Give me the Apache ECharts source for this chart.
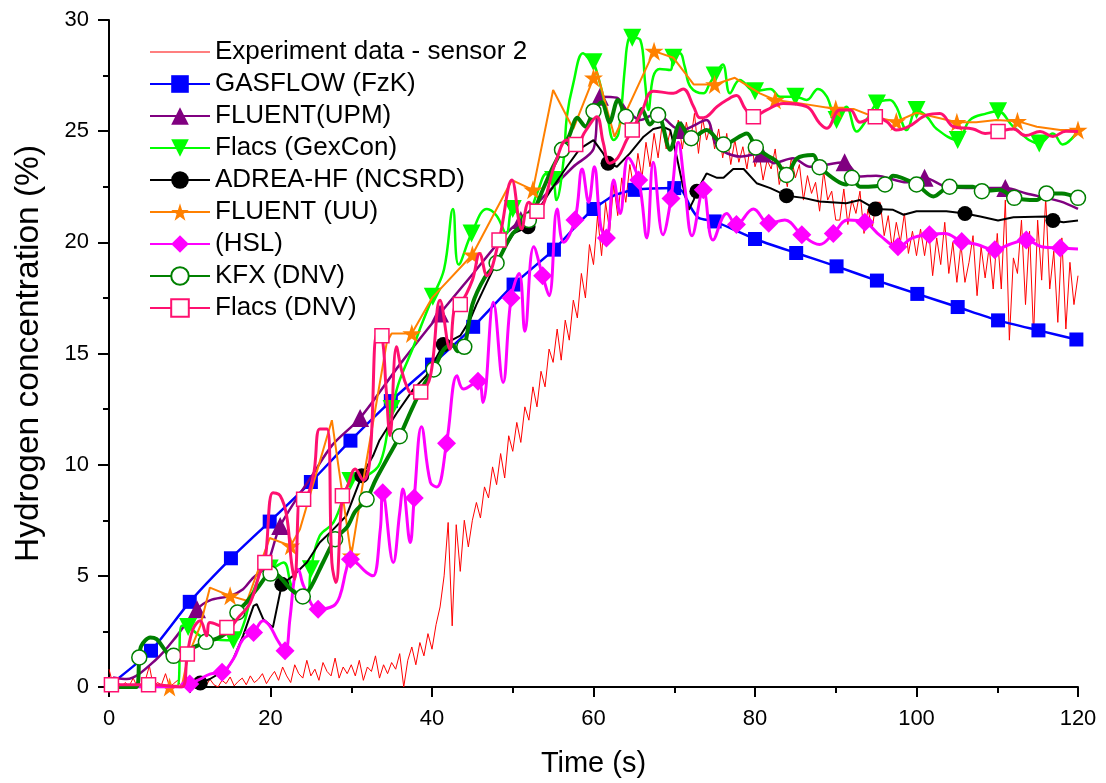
<!DOCTYPE html>
<html><head><meta charset="utf-8">
<script src="https://cdn.jsdelivr.net/npm/echarts@6/dist/echarts.min.js"></script>
<style>html,body{margin:0;padding:0;background:#fff}#c{width:1106px;height:783px}</style>
</head><body><div id="c"></div>
<script>
// ---------- DATA ----------
const seriesNames = ['Experiment data - sensor 2','GASFLOW (FzK)','FLUENT(UPM)','Flacs (GexCon)','ADREA-HF (NCSRD)','FLUENT (UU)','(HSL)','KFX (DNV)','Flacs (DNV)'];
const xTicks = [0,20,40,60,80,100,120];
const yTicks = [0,5,10,15,20,25,30];

// experiment, sampled every 0.5 s from t = 0
const expStep = 0.5;
const expY = [
0.8,0.1,0.3,0.0,0.2,0.05,0.4,0.0,0.1,0.3,0.95,0.0,0.2,0.1,0.6,0.0,0.15,0.3,0.0,0.2,0.1,
0.3,0.0,0.2,0.05,0.35,0.1,0.0,0.3,0.15,0.45,0.05,0.25,0.4,0.1,0.5,0.2,0.35,0.6,0.15,0.45,
0.7,0.3,0.9,0.5,0.2,1.0,0.6,0.4,1.2,0.5,0.8,0.3,1.1,0.7,0.5,1.3,0.4,0.9,0.6,1.0,
0.5,1.2,0.3,0.9,0.7,1.4,0.4,1.0,0.6,1.1,0.8,1.5,0.0,1.2,1.8,1.0,2.0,1.4,2.4,1.7,
2.8,3.6,5.0,7.4,2.75,7.3,5.2,7.5,6.3,7.5,
8.3,7.6,9.0,8.5,9.9,9.1,10.5,9.4,11.3,10.6,11.9,11.0,12.6,12.0,13.5,12.6,14.2,13.5,15.2,14.6,
16.1,14.7,16.5,15.6,17.4,16.6,18.6,17.5,19.9,19.0,
21.2,19.4,21.8,20.5,22.6,21.2,22.9,21.8,23.5,22.4,
24.0,22.9,24.5,23.4,24.9,23.8,25.3,24.2,25.0,24.3,
25.5,24.2,25.4,24.5,25.8,24.0,25.6,24.6,25.3,24.2,
25.1,23.8,24.9,23.5,24.6,23.6,24.3,23.3,24.6,23.4,
24.0,22.8,23.7,23.3,24.2,22.6,23.4,22.5,23.8,22.9,
23.5,21.9,23.0,22.2,22.7,21.4,23.2,21.9,22.3,21.0,
21.0,22.4,20.8,21.9,21.3,22.3,20.4,21.5,20.6,21.8,
21.8,20.3,21.2,19.7,20.9,20.0,21.3,19.5,20.5,19.4,
20.6,19.4,20.6,18.5,20.2,19.0,20.9,18.6,20.0,18.2,
19.9,18.2,19.1,20.3,17.6,19.8,18.4,19.8,17.9,20.4,
17.9,21.9,15.6,19.3,18.6,21.0,17.2,20.5,15.8,21.0,
18.3,22.0,17.9,19.6,16.4,20.2,16.1,19.1,17.2,18.5
];

const gasflowLine = [[0.5,0.2],[58,20.8],[62.5,22.1],[71,22.3],[72,21.6],[73,21.1]];
const gasflowMarks = [[5.2,1.63],[10,3.83],[15.1,5.79],[19.9,7.44],[25,9.22],[29.9,11.08],[34.9,12.86],[40,14.5],[45.1,16.2],[50.1,18.1],[55.1,19.67],[60,21.5],[65.1,22.36],[70,22.44],[75,20.94],[80,20.15],[85.1,19.52],[90.1,18.92],[95.1,18.28],[100.1,17.68],[105.1,17.09],[110.1,16.49],[115.1,16.04],[119.8,15.63]];

const upmLine = [[0.5,0.43],[2.2,0.36],[5.9,1.26],[8.4,2.3],[12.5,3.9],[15,4.1],[16.6,4.4],[17.8,4.9],[19.5,5.45],[25.3,9.6],[27.7,10.9],[36,14.5],[45.1,18.6],[49.2,20.4],[53.4,21.9],[57.5,23.4],[60,24.2],[62.9,26.5],[64.1,25.95],[65.8,25.5],[67.8,25.8],[69.9,25.2],[74,25.5],[75.3,24.3],[78.1,23.86],[82.3,23.56],[84.7,23.78],[86.8,23.4],[93,22.96],[95,23.0],[98.8,22.7],[103.7,22.5],[107.4,22.44],[113.6,22.2],[117.8,21.84],[120,21.5]];
const upmMarks = [[10.9,3.5],[21.2,7.24],[31.1,12.1],[41,16.8],[51,21.0],[60.8,26.55],[70.9,25.05],[80.8,24.0],[91.1,23.6],[101,22.9],[111,22.44]];

const gexLine = [[0,0],[8.4,0],[9,2.75],[11.3,2.3],[12.5,2.16],[16.6,2.75],[17.5,3.95],[18.3,4.7],[19.1,5.45],[21.6,5.6],[22.8,4.4],[24.5,4.1],[26.1,6.8],[27.8,7.4],[29.4,8.9],[31.9,9.5],[33.6,10.1],[34.8,12.2],[36,13.8],[37.7,15.3],[38.5,16.1],[41.5,18.8],[42.6,21.5],[43.3,19.0],[46.8,21.5],[48,21.2],[49.2,20.4],[51.5,21.0],[53,22.2],[54.2,23.1],[55.4,21.9],[56.3,23.7],[56.7,25.65],[57.5,27.15],[58.7,28.5],[59.6,28.2],[60.8,27.15],[61.6,25.95],[62.5,24.6],[63.1,24.9],[63.9,27.9],[64.3,29.1],[65.8,29.1],[66.4,27.15],[66.8,25.95],[67.4,27.45],[68.2,27.8],[69.5,27.75],[70.7,28.5],[71.3,27.9],[72,27.0],[73.6,26.7],[74.4,27.15],[76,28.0],[76.9,26.7],[78.1,27.3],[81.9,26.9],[83.1,26.55],[86.4,26.4],[87.8,26.9],[88.9,26.55],[91.3,26.1],[92.6,24.98],[93.8,25.5],[96.7,26.4],[97.5,26.1],[98.8,25.05],[101.3,25.65],[102.5,25.1],[106.6,25.5],[108.7,25.8],[112,25.2],[116.9,24.9],[118.1,24.4],[119.8,24.9]];
const gexMarks = [[9.8,2.7],[15.4,2.1],[19.9,5.33],[25,5.3],[29.9,9.26],[35,12.5],[40.1,17.55],[44.9,20.4],[50,21.5],[55,22.8],[60,28.1],[64.8,29.2],[69.9,28.3],[75,27.5],[80,26.8],[85,26.55],[90.1,25.5],[95.1,26.25],[100,25.95],[105.1,24.6],[110.1,25.9],[115.2,24.45]];

const adreaLine = [[12.5,0.36],[14.6,0.8],[15.4,1.26],[16.6,2.3],[17.9,3.65],[18.3,3.73],[19.1,3.05],[20.3,2.68],[22.8,5.0],[24.5,5.6],[26.1,6.5],[27.8,7.1],[29.4,7.7],[32.7,10.4],[33.5,11.1],[35.6,12.3],[37.7,13.4],[39.3,14.0],[43.5,15.8],[44.7,16.5],[45.5,17.2],[46.8,18.2],[48.4,19.4],[50.1,20.4],[53.4,21.6],[55,22.5],[56.7,23.4],[58.3,24.2],[60,24.6],[61.2,24.0],[62.9,23.4],[64.5,24.0],[66.2,24.75],[67.4,25.1],[68.6,25.2],[69.5,25.05],[70.3,23.86],[71.1,22.5],[71.8,21.46],[72.4,21.9],[74,23.1],[75.3,22.9],[76.1,22.9],[77.3,23.3],[78.6,23.3],[80.2,22.66],[81.9,22.44],[86,22.0],[88,21.84],[91.3,21.76],[93,21.9],[97.1,21.46],[98.4,21.24],[100,21.4],[103.7,21.4],[107.9,21.16],[110.1,20.98],[112,21.13],[116.1,21.16],[118.2,20.9],[120,20.98]];
const adreaMarks = [[11.3,0.18],[21.4,4.62],[31.3,9.5],[41.4,15.4],[51.9,20.7],[61.8,23.56],[72.8,22.3],[83.9,22.1],[94.9,21.5],[106,21.3],[116.9,20.98]];

const uuLine = [[0,0],[9,0],[9.8,1.4],[11.3,2.75],[12.5,4.47],[17.1,3.88],[19.9,6.7],[23.65,7.1],[27.6,12.0],[31.9,10.2],[34.4,15.5],[35,15.9],[40,17.5],[49.9,22.8],[55,26.85],[57.5,25.1],[60.4,27.7],[62.6,24.75],[69.9,28.3],[72.4,27.1],[77.5,27.4],[80.6,26.7],[85.6,26.25],[92.2,26.0],[94.7,25.65],[100,25.83],[107.4,25.4],[109.9,25.5],[114.9,25.2],[117.8,25.05]];
const uuMarks = [[7.5,0],[15,4.1],[22.5,6.35],[30,5.9],[37.5,15.9],[45,19.44],[52.5,22.36],[60,27.4],[67.5,28.6],[75,27.1],[82.5,26.4],[90,26.0],[97.5,25.43],[105,25.4],[112.5,25.45],[120,25.05]];

const hslLine = [[0,0],[9,0],[11.3,0.36],[12.5,0.58],[15.4,1.26],[16.6,2.15],[19.1,2.98],[19.9,2.75],[20.8,2.15],[22.4,3.05],[23,5.0],[23.4,5.3],[24.1,4.55],[27.8,3.65],[28.6,4.1],[29.4,5.3],[31.9,5.15],[32.7,5.0],[33.6,7.1],[35.2,5.6],[36,7.84],[36.4,8.9],[37.3,6.5],[38.7,11.7],[39.8,9.2],[40.6,9.0],[43.1,14.0],[43.9,13.4],[46.3,12.8],[47.6,17.3],[48.8,13.7],[50.8,18.6],[51.5,16.0],[52.6,19.8],[54.5,17.6],[55.5,21.5],[56.3,20.0],[58.6,23.3],[59.4,21.8],[60.1,23.4],[60.9,20.7],[62.5,22.8],[63.3,21.3],[64.3,23.8],[66.6,20.2],[67.4,23.6],[68.6,20.34],[70.5,24.5],[71.3,22.5],[72.2,20.3],[74.8,20.1],[76.5,21.3],[79.8,21.5],[83.7,21.0],[88,19.9],[91.5,21.0],[95.5,20.3],[99.5,20.2],[103.5,20.4],[107.5,19.9],[111.5,19.9],[115.5,19.8],[120,19.7]];
const hslMarks = [[10,0.13],[14,0.66],[17.9,2.45],[21.8,1.63],[25.9,3.5],[29.9,5.75],[33.9,8.74],[37.8,8.5],[41.8,10.96],[45.7,13.75],[49.8,17.5],[53.7,18.5],[57.7,21.0],[61.6,20.2],[65.6,22.8],[69.6,21.97],[73.6,22.36],[77.7,20.8],[81.7,20.86],[85.8,20.34],[89.7,20.4],[93.6,20.9],[97.7,19.8],[101.6,20.34],[105.6,20.04],[109.7,19.67],[113.6,20.1],[117.8,19.74]];

const kfxLine = [[0,0],[3.4,0],[4.0,1.85],[5.1,2.23],[5.9,2.15],[6.7,1.78],[7.6,1.4],[10,1.7],[13.5,2.2],[15,2.6],[17,3.8],[18.5,4.5],[21,5.0],[22.5,4.4],[25,4.5],[26.5,5.6],[29.5,7.2],[30.5,7.9],[33,9.3],[34.5,10.3],[37.5,12.5],[39,13.6],[41.5,15.2],[42.5,15.4],[43.2,15.1],[45,17.2],[46.5,18.4],[50,20.4],[54,22.6],[55,23.4],[57,24.8],[58,25.6],[59,25.2],[61,26.3],[62,25.4],[63,26.4],[65,25.0],[66,26.0],[67,25.3],[69.5,24.16],[70.7,25.36],[74,25.05],[75.7,24.46],[79,24.9],[81.4,23.93],[82.7,23.63],[85.2,23.78],[87.2,23.93],[91.3,22.6],[93,22.5],[97.1,23.0],[102.1,22.06],[107,22.5],[110.3,22.36],[114.9,21.9],[118,22.2]];
const kfxMarks = [[3.75,1.33],[8,1.4],[12,2.03],[15.9,3.35],[20,5.1],[24,4.07],[28,6.65],[31.9,8.44],[36,11.28],[40.2,14.28],[44,15.3],[48,19.07],[52,21.0],[56.1,24.16],[60,25.9],[64,25.65],[68,25.73],[72.1,24.68],[76.1,24.4],[80.1,24.27],[83.9,23.03],[88,23.38],[92,22.9],[96.1,22.6],[100,22.6],[104.1,22.5],[108.1,22.3],[112.1,22.0],[116.1,22.2],[120,22.0]];

const dnvLine = [[9,0],[10.4,2.6],[11.3,2.98],[12.1,2.3],[12.5,2.9],[16.2,3.2],[17.5,3.8],[18.7,5.15],[20.3,8.74],[21.2,8.6],[22,7.7],[22.6,5.6],[23,4.85],[23.65,8.6],[25.3,9.5],[26.1,11.6],[27,11.6],[27.6,5.6],[28.1,4.7],[29.5,9.0],[30.5,9.8],[31.5,9.3],[32.3,10.2],[33.2,15.9],[34.3,13.5],[34.8,11.3],[35.6,15.3],[36.2,14.3],[36.9,13.5],[37.5,13.2],[39.8,13.98],[41,17.4],[42.2,15.2],[42.8,17.1],[45,18.3],[45.9,19.5],[46.8,18.5],[49.9,22.8],[51.1,20.6],[52,21.8],[55.4,23.7],[56.7,24.6],[59,25.0],[60.4,25.65],[61.2,24.5],[62,23.56],[63,23.8],[64.1,24.6],[66,25.9],[67.4,26.8],[69.9,26.7],[71.1,26.9],[72.4,26.1],[73.2,25.6],[74,25.65],[75.3,26.1],[76.5,26.4],[77.7,26.6],[78.8,26.0],[81.4,25.95],[83.5,26.25],[86.4,26.1],[88,25.36],[88.9,25.13],[90.5,25.95],[91.8,25.95],[93,25.4],[96.3,25.43],[97.5,25.05],[99,25.2],[101.3,25.73],[102.9,25.8],[104.6,25.2],[107,25.1],[108.5,24.9],[112,25.1],[113.5,24.8],[115.3,24.98],[116.9,24.76],[118.5,25.0],[120,24.98]];
const dnvMarks = [[0.3,0.1],[4.9,0.1],[9.7,1.48],[14.6,2.68],[19.3,5.6],[24.1,8.44],[28.9,8.6],[33.8,15.8],[38.6,13.27],[43.5,17.2],[48.3,20.1],[53,21.4],[57.8,24.4],[64.8,25.05],[79.8,25.65],[94.9,25.65],[110.1,24.98]];

// ---------- CHART ----------
const FONT = 'Liberation Sans';
const STAR = 'path://M50,0L61.2,34.5L97.6,34.5L68.2,55.9L79.4,90.5L50,69.1L20.6,90.5L31.8,55.9L2.4,34.5L38.8,34.5Z';
const DOWN = 'path://M0,0L100,0L50,86.6Z';
const THIN_LINE_ICON = 'path://M0,0L0.01,0L0.01,0.01Z M0,10.4L60,10.4L60,11.6L0,11.6Z M0,22L0.01,22L0.01,21.99Z';

function merge(line, marks) {
  const pts = line.map(p => ({ value: p, symbol: 'none' })).concat(marks.map(p => ({ value: p })));
  pts.sort((a, b) => a.value[0] - b.value[0]);
  return pts;
}
function mk(name, color, line, marks, symbol, size, lw, smooth, hollow, z) {
  return {
    name, type: 'line', data: merge(line, marks), symbol, symbolSize: size,
    showSymbol: true, showAllSymbol: true, smooth, z, animation: false,
    lineStyle: { color, width: lw },
    itemStyle: hollow ? { color: '#fff', borderColor: color, borderWidth: 1.5 } : { color, borderWidth: 0 },
    emphasis: { disabled: true }
  };
}

const expData = expY.map((v, i) => [i * expStep, v]);

const legendData = seriesNames.map((n, i) => i === 0 ? { name: n, icon: THIN_LINE_ICON, itemStyle: { color: '#ff0000' } } : { name: n });

const chart = echarts.init(document.getElementById('c'), null, { renderer: 'canvas' });
chart.setOption({
  backgroundColor: '#fff',
  animation: false,
  grid: { left: 109, right: 28, top: 20, bottom: 95, containLabel: false },
  legend: {
    orient: 'vertical', left: 144, top: 31, itemWidth: 60, itemHeight: 22, itemGap: 0,
    data: legendData, selectedMode: false,
    textStyle: { fontFamily: FONT, fontSize: 26, color: '#000', lineHeight: 32 }
  },
  xAxis: {
    type: 'value', min: 0, max: 120, interval: 20,
    name: 'Time (s)', nameLocation: 'middle', nameGap: 62,
    nameTextStyle: { fontFamily: FONT, fontSize: 29, color: '#000' },
    axisLine: { show: true, onZero: false, lineStyle: { color: '#000', width: 2 } },
    axisTick: { show: true, length: 10, lineStyle: { color: '#000', width: 2 } },
    minorTick: { show: true, splitNumber: 2, length: 6, lineStyle: { color: '#000', width: 2 } },
    axisLabel: { fontFamily: FONT, fontSize: 22, color: '#000', margin: 21 },
    splitLine: { show: false }
  },
  yAxis: {
    type: 'value', min: 0, max: 30, interval: 5,
    name: 'Hydrogen concentration (%)', nameLocation: 'middle', nameGap: 63,
    nameTextStyle: { fontFamily: FONT, fontSize: 33.5, color: '#000' },
    axisLine: { show: true, onZero: false, lineStyle: { color: '#000', width: 2 } },
    axisTick: { show: true, length: 11, lineStyle: { color: '#000', width: 2 } },
    minorTick: { show: true, splitNumber: 2, length: 6, lineStyle: { color: '#000', width: 2 } },
    axisLabel: { fontFamily: FONT, fontSize: 22, color: '#000', margin: 20 },
    splitLine: { show: false }
  },
  series: [
    { name: seriesNames[0], type: 'line', data: expData, symbol: 'none', z: 1,
      lineStyle: { color: '#ff0000', width: 1 }, itemStyle: { color: '#ff0000' }, emphasis: { disabled: true } },
    mk(seriesNames[1], '#0000ff', gasflowLine, gasflowMarks, 'rect', 14, 2.5, 0.2, false, 2),
    mk(seriesNames[2], '#800080', upmLine, upmMarks, 'triangle', 18, 2.5, 0.3, false, 3),
    mk(seriesNames[3], '#00ff00', gexLine, gexMarks, DOWN, 18, 2.5, 0.4, false, 4),
    mk(seriesNames[4], '#000000', adreaLine, adreaMarks, 'circle', 15, 2, 0, false, 5),
    mk(seriesNames[5], '#ff8000', uuLine, uuMarks, STAR, 19, 2, 0, false, 6),
    mk(seriesNames[6], '#ff00ff', hslLine, hslMarks, 'diamond', 19, 3, 0.4, false, 7),
    mk(seriesNames[7], '#008000', kfxLine, kfxMarks, 'circle', 15, 4, 0.3, true, 8),
    mk(seriesNames[8], '#ff1070', dnvLine, dnvMarks, 'rect', 14, 3, 0.4, true, 9)
  ]
});
</script></body></html>
